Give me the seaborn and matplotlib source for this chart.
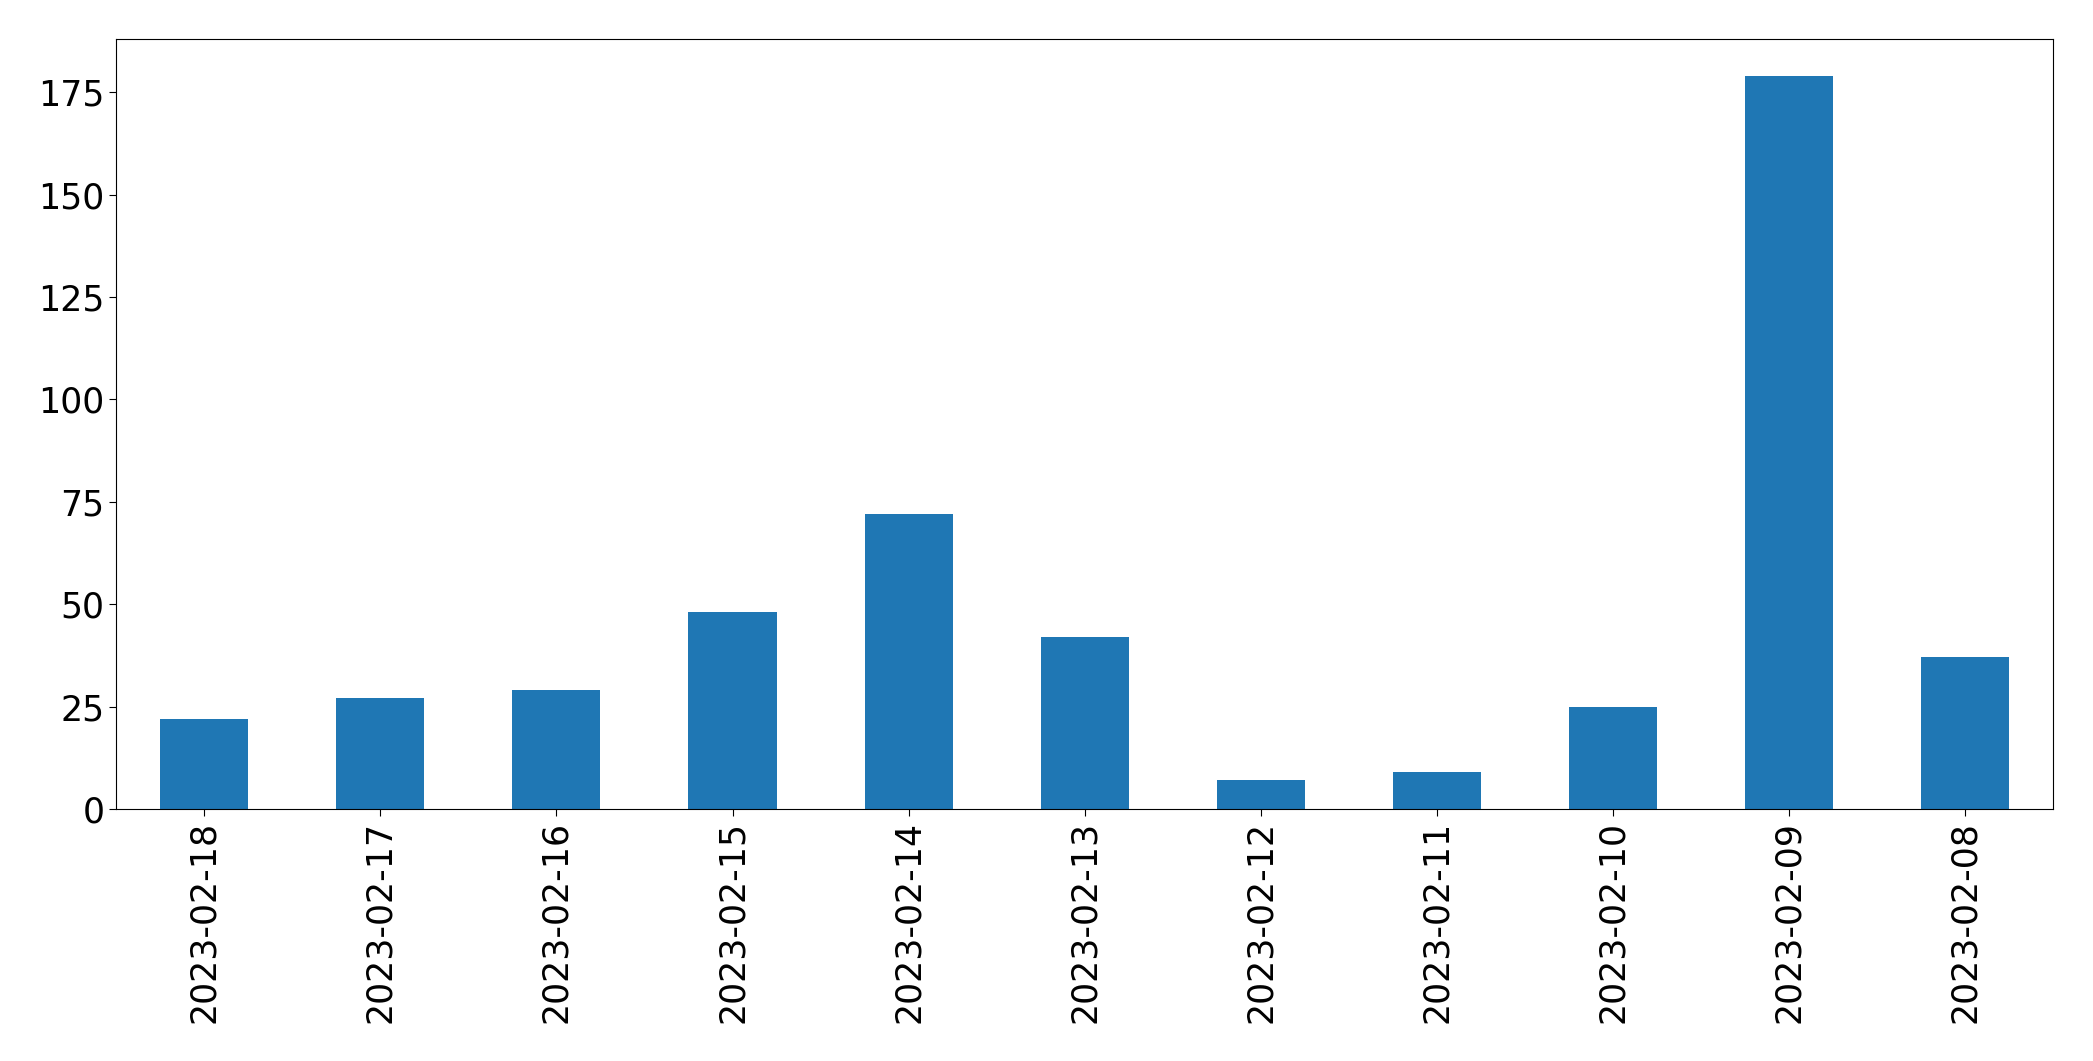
import pandas as pd
import matplotlib
matplotlib.use("Agg")
import matplotlib.pyplot as plt
import seaborn as sns

# daily counts, newest first (as in the reference)
dates = ["2023-02-18", "2023-02-17", "2023-02-16", "2023-02-15", "2023-02-14",
         "2023-02-13", "2023-02-12", "2023-02-11", "2023-02-10", "2023-02-09",
         "2023-02-08"]
counts = [22, 27, 29, 48, 72, 42, 7, 9, 25, 179, 37]

df = pd.DataFrame({"date": dates, "count": counts})

fig, ax = plt.subplots(figsize=(20.93, 10.61), dpi=100)
fig.subplots_adjust(left=0.0555, right=0.981, top=0.963, bottom=0.2375)

sns.barplot(data=df, x="date", y="count", order=dates, color="#1f77b4",
            saturation=1, width=0.5, ax=ax)

ax.set_xlim(-0.5, len(dates) - 0.5)
ax.set_ylim(0, max(counts) * 1.05)
ax.set_xlabel("")
ax.set_ylabel("")
ax.tick_params(axis="both", labelsize=25, length=5)
ax.tick_params(axis="x", rotation=90)

fig.savefig("out.png", dpi=100)
